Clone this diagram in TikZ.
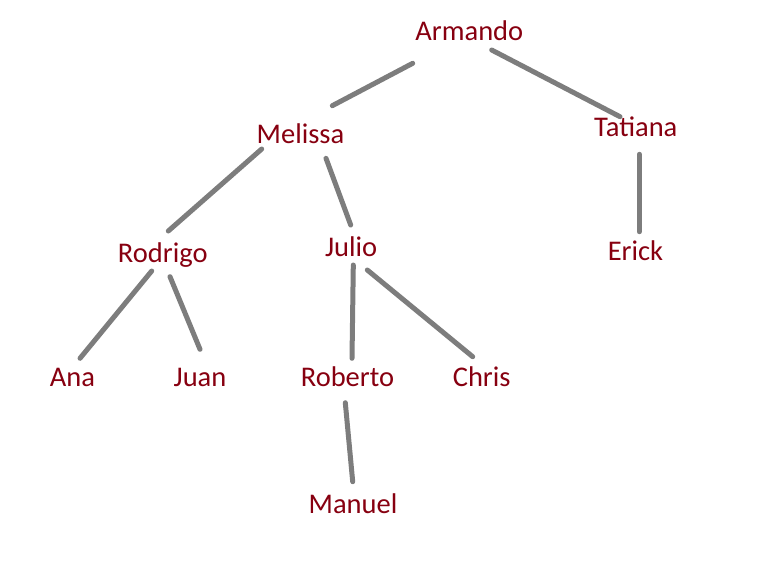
\documentclass[tikz,border=0pt]{standalone}
\usepackage{fontspec}
\setmainfont{Carlito}
\definecolor{namered}{RGB}{135,0,16}
\definecolor{linegray}{RGB}{125,125,125}
\begin{document}
\begin{tikzpicture}[x=1pt,y=-1pt,
  person/.style={anchor=base,inner sep=0pt,text=namered,font=\fontsize{28.5}{30}\selectfont},
  link/.style={draw=linegray,line width=5pt,line cap=round}]
\useasboundingbox (0,0) rectangle (773,568);
% names
\node[person] (armando) at (469.3,40.7) {Armando};
\node[person] (melissa) at (300.5,143.3) {Melissa};
\node[person] (tatiana) at (635.8,136.7) {Tatiana};
\node[person] (rodrigo) at (162.8,262.7) {Rodrigo};
\node[person] (julio) at (351.2,256.7) {Julio};
\node[person] (erick) at (635.5,260) {Erick};
\node[person] (ana) at (72.5,386.7) {Ana};
\node[person] (juan) at (200,386.7) {Juan};
\node[person] (roberto) at (347.5,386.7) {Roberto};
\node[person] (chris) at (481.7,386.7) {Chris};
\node[person] (manuel) at (353,513) {Manuel};
% connector ends
\coordinate (am-a) at (412.7,63.3);  \coordinate (am-m) at (332.3,105.7);
\coordinate (at-a) at (491.7,50);    \coordinate (at-t) at (620,116.7);
\coordinate (mr-m) at (261.7,149);   \coordinate (mr-r) at (168.3,231);
\coordinate (mj-m) at (326,158.3);   \coordinate (mj-j) at (350.7,225);
\coordinate (ra-r) at (151.7,271);   \coordinate (ra-a) at (80,358.3);
\coordinate (rj-r) at (170,276.7);   \coordinate (rj-j) at (200,349.3);
\coordinate (jr-j) at (353.3,265);   \coordinate (jr-r) at (352,358.3);
\coordinate (jc-j) at (367.3,270);   \coordinate (jc-c) at (472.7,356.7);
\coordinate (rm-r) at (345.3,402.7); \coordinate (rm-m) at (352.7,481.7);
\coordinate (te-t) at (639.3,154.3); \coordinate (te-e) at (639.3,231.7);
% connectors
\draw[link] (am-a) -- (am-m);
\draw[link] (at-a) -- (at-t);
\draw[link] (mr-m) -- (mr-r);
\draw[link] (mj-m) -- (mj-j);
\draw[link] (ra-r) -- (ra-a);
\draw[link] (rj-r) -- (rj-j);
\draw[link] (jr-j) -- (jr-r);
\draw[link] (jc-j) -- (jc-c);
\draw[link] (rm-r) -- (rm-m);
\draw[link] (te-t) -- (te-e);
\end{tikzpicture}
\end{document}
